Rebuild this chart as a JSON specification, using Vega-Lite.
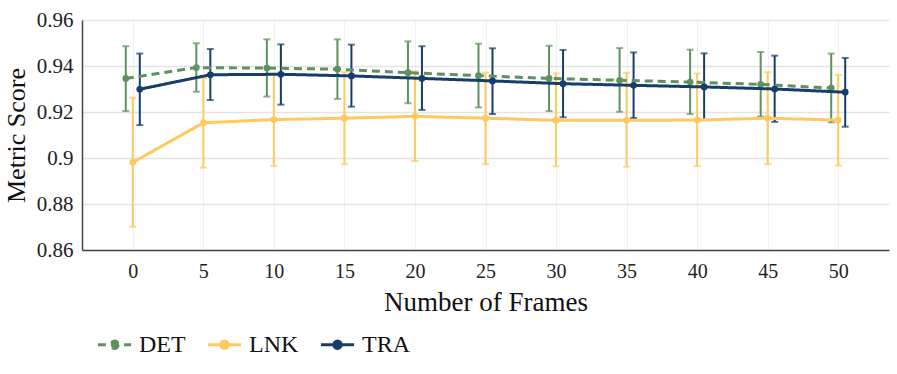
{
  "$schema": "https://vega.github.io/schema/vega-lite/v6.json",
  "width": 807,
  "height": 230,
  "autosize": {"type": "none"},
  "padding": {"left": 82, "top": 20, "right": 8, "bottom": 124},
  "background": "white",
  "config": {
    "font": "Liberation Serif, Times New Roman, serif",
    "view": {"stroke": null},
    "axis": {"labelFont": "Liberation Serif, Times New Roman, serif", "titleFont": "Liberation Serif, Times New Roman, serif", "labelColor": "#222", "titleColor": "#111", "titleFontWeight": "normal", "labelFontWeight": "normal"},
    "legend": {"labelFont": "Liberation Serif, Times New Roman, serif", "labelFontWeight": "normal"}
  },
  "data": {"values": [
    {"frames": 0, "metric": "DET", "score": 0.9346, "lo": 0.9204, "hi": 0.9486},
    {"frames": 5, "metric": "DET", "score": 0.9393, "lo": 0.9288, "hi": 0.9499},
    {"frames": 10, "metric": "DET", "score": 0.9391, "lo": 0.9267, "hi": 0.9516},
    {"frames": 15, "metric": "DET", "score": 0.9386, "lo": 0.9257, "hi": 0.9516},
    {"frames": 20, "metric": "DET", "score": 0.9371, "lo": 0.9238, "hi": 0.9507},
    {"frames": 25, "metric": "DET", "score": 0.9358, "lo": 0.9220, "hi": 0.9497},
    {"frames": 30, "metric": "DET", "score": 0.9346, "lo": 0.9204, "hi": 0.9488},
    {"frames": 35, "metric": "DET", "score": 0.9338, "lo": 0.9201, "hi": 0.9478},
    {"frames": 40, "metric": "DET", "score": 0.9330, "lo": 0.9191, "hi": 0.9471},
    {"frames": 45, "metric": "DET", "score": 0.9320, "lo": 0.9180, "hi": 0.9461},
    {"frames": 50, "metric": "DET", "score": 0.9304, "lo": 0.9155, "hi": 0.9454},
    {"frames": 0, "metric": "LNK", "score": 0.8981, "lo": 0.8701, "hi": 0.9262},
    {"frames": 5, "metric": "LNK", "score": 0.9153, "lo": 0.8958, "hi": 0.9348},
    {"frames": 10, "metric": "LNK", "score": 0.9167, "lo": 0.8965, "hi": 0.9365},
    {"frames": 15, "metric": "LNK", "score": 0.9173, "lo": 0.8973, "hi": 0.9374},
    {"frames": 20, "metric": "LNK", "score": 0.9181, "lo": 0.8987, "hi": 0.9377},
    {"frames": 25, "metric": "LNK", "score": 0.9173, "lo": 0.8973, "hi": 0.9371},
    {"frames": 30, "metric": "LNK", "score": 0.9164, "lo": 0.8964, "hi": 0.9368},
    {"frames": 35, "metric": "LNK", "score": 0.9164, "lo": 0.8962, "hi": 0.9370},
    {"frames": 40, "metric": "LNK", "score": 0.9165, "lo": 0.8965, "hi": 0.9368},
    {"frames": 45, "metric": "LNK", "score": 0.9173, "lo": 0.8973, "hi": 0.9373},
    {"frames": 50, "metric": "LNK", "score": 0.9165, "lo": 0.8967, "hi": 0.9361},
    {"frames": 0, "metric": "TRA", "score": 0.9299, "lo": 0.9143, "hi": 0.9454},
    {"frames": 5, "metric": "TRA", "score": 0.9362, "lo": 0.9252, "hi": 0.9474},
    {"frames": 10, "metric": "TRA", "score": 0.9364, "lo": 0.9232, "hi": 0.9494},
    {"frames": 15, "metric": "TRA", "score": 0.9357, "lo": 0.9223, "hi": 0.9493},
    {"frames": 20, "metric": "TRA", "score": 0.9346, "lo": 0.9209, "hi": 0.9486},
    {"frames": 25, "metric": "TRA", "score": 0.9335, "lo": 0.9191, "hi": 0.9477},
    {"frames": 30, "metric": "TRA", "score": 0.9323, "lo": 0.9177, "hi": 0.9470},
    {"frames": 35, "metric": "TRA", "score": 0.9316, "lo": 0.9174, "hi": 0.9459},
    {"frames": 40, "metric": "TRA", "score": 0.9309, "lo": 0.9165, "hi": 0.9455},
    {"frames": 45, "metric": "TRA", "score": 0.9300, "lo": 0.9157, "hi": 0.9445},
    {"frames": 50, "metric": "TRA", "score": 0.9286, "lo": 0.9136, "hi": 0.9435}
  ]},
  "encoding": {
    "x": {
      "field": "frames", "type": "quantitative",
      "scale": {"domain": [-3.6, 53.6], "nice": false, "zero": false},
      "axis": {
        "values": [0, 5, 10, 15, 20, 25, 30, 35, 40, 45, 50],
        "title": "Number of Frames", "titleFontSize": 27, "titlePadding": 8,
        "labelFontSize": 20, "labelPadding": 11, "ticks": false,
        "domainColor": "#444", "domainWidth": 1.5,
        "grid": true, "gridColor": "#eef1f7", "gridWidth": 1
      }
    },
    "color": {
      "field": "metric", "type": "nominal",
      "scale": {"domain": ["DET", "LNK", "TRA"], "range": ["#5f9160", "#ffc95e", "#173d69"]},
      "legend": {
        "title": null, "orient": "none", "direction": "horizontal",
        "legendX": 14, "legendY": 306,
        "labelFontSize": 24, "labelColor": "#111",
        "symbolType": "M-1,0L1,0M0.22,0A0.22,0.22 0 1,1 -0.22,0A0.22,0.22 0 1,1 0.22,0",
        "symbolSize": 1100, "symbolStrokeWidth": 3, "symbolOpacity": 1,
        "columnPadding": 15, "labelOffset": 6
      }
    }
  },
  "layer": [
    {
      "transform": [{"filter": "datum.metric === 'DET'"}],
      "layer": [
        {"mark": {"type": "rule", "strokeWidth": 2, "xOffset": -7}, "encoding": {"y": {"field": "lo", "type": "quantitative"}, "y2": {"field": "hi"}}},
        {"mark": {"type": "tick", "orient": "horizontal", "size": 7, "thickness": 2, "xOffset": -7}, "encoding": {"y": {"field": "lo", "type": "quantitative"}}},
        {"mark": {"type": "tick", "orient": "horizontal", "size": 7, "thickness": 2, "xOffset": -7}, "encoding": {"y": {"field": "hi", "type": "quantitative"}}}
      ]
    },
    {
      "transform": [{"filter": "datum.metric === 'LNK'"}],
      "layer": [
        {"mark": {"type": "rule", "strokeWidth": 2}, "encoding": {"y": {"field": "lo", "type": "quantitative"}, "y2": {"field": "hi"}}},
        {"mark": {"type": "tick", "orient": "horizontal", "size": 7, "thickness": 2}, "encoding": {"y": {"field": "lo", "type": "quantitative"}}},
        {"mark": {"type": "tick", "orient": "horizontal", "size": 7, "thickness": 2}, "encoding": {"y": {"field": "hi", "type": "quantitative"}}}
      ]
    },
    {
      "transform": [{"filter": "datum.metric === 'TRA'"}],
      "layer": [
        {"mark": {"type": "rule", "strokeWidth": 2, "xOffset": 7}, "encoding": {"y": {"field": "lo", "type": "quantitative"}, "y2": {"field": "hi"}}},
        {"mark": {"type": "tick", "orient": "horizontal", "size": 7, "thickness": 2, "xOffset": 7}, "encoding": {"y": {"field": "lo", "type": "quantitative"}}},
        {"mark": {"type": "tick", "orient": "horizontal", "size": 7, "thickness": 2, "xOffset": 7}, "encoding": {"y": {"field": "hi", "type": "quantitative"}}}
      ]
    },
    {
      "transform": [{"filter": "datum.metric === 'DET'"}],
      "layer": [
        {
          "mark": {"type": "line", "strokeWidth": 3, "xOffset": -7},
          "encoding": {
            "y": {
              "field": "score", "type": "quantitative",
              "scale": {"domain": [0.86, 0.96], "nice": false, "zero": false},
              "axis": {
                "values": [0.86, 0.88, 0.9, 0.92, 0.94, 0.96], "format": "~g",
                "title": "Metric Score", "titleFontSize": 26, "titlePadding": 7,
                "labelFontSize": 21, "labelPadding": 9, "ticks": false,
                "domainColor": "#444", "domainWidth": 1.5,
                "grid": true, "gridColor": "#e4e4e4", "gridWidth": 1.5
              }
            },
            "strokeDash": {
              "field": "metric", "type": "nominal",
              "scale": {"domain": ["DET", "LNK", "TRA"], "range": [[8, 5], [1, 0], [1, 0]]},
              "legend": null
            }
          }
        },
        {"mark": {"type": "point", "filled": true, "size": 45, "opacity": 1, "xOffset": -7}, "encoding": {"y": {"field": "score", "type": "quantitative"}}}
      ]
    },
    {
      "transform": [{"filter": "datum.metric === 'LNK'"}],
      "layer": [
        {"mark": {"type": "line", "strokeWidth": 3}, "encoding": {"y": {"field": "score", "type": "quantitative"}, "strokeDash": {"field": "metric", "type": "nominal", "legend": null}}},
        {"mark": {"type": "point", "filled": true, "size": 45, "opacity": 1}, "encoding": {"y": {"field": "score", "type": "quantitative"}}}
      ]
    },
    {
      "transform": [{"filter": "datum.metric === 'TRA'"}],
      "layer": [
        {"mark": {"type": "line", "strokeWidth": 3, "xOffset": 7}, "encoding": {"y": {"field": "score", "type": "quantitative"}, "strokeDash": {"field": "metric", "type": "nominal", "legend": null}}},
        {"mark": {"type": "point", "filled": true, "size": 45, "opacity": 1, "xOffset": 7}, "encoding": {"y": {"field": "score", "type": "quantitative"}}}
      ]
    }
  ]
}
